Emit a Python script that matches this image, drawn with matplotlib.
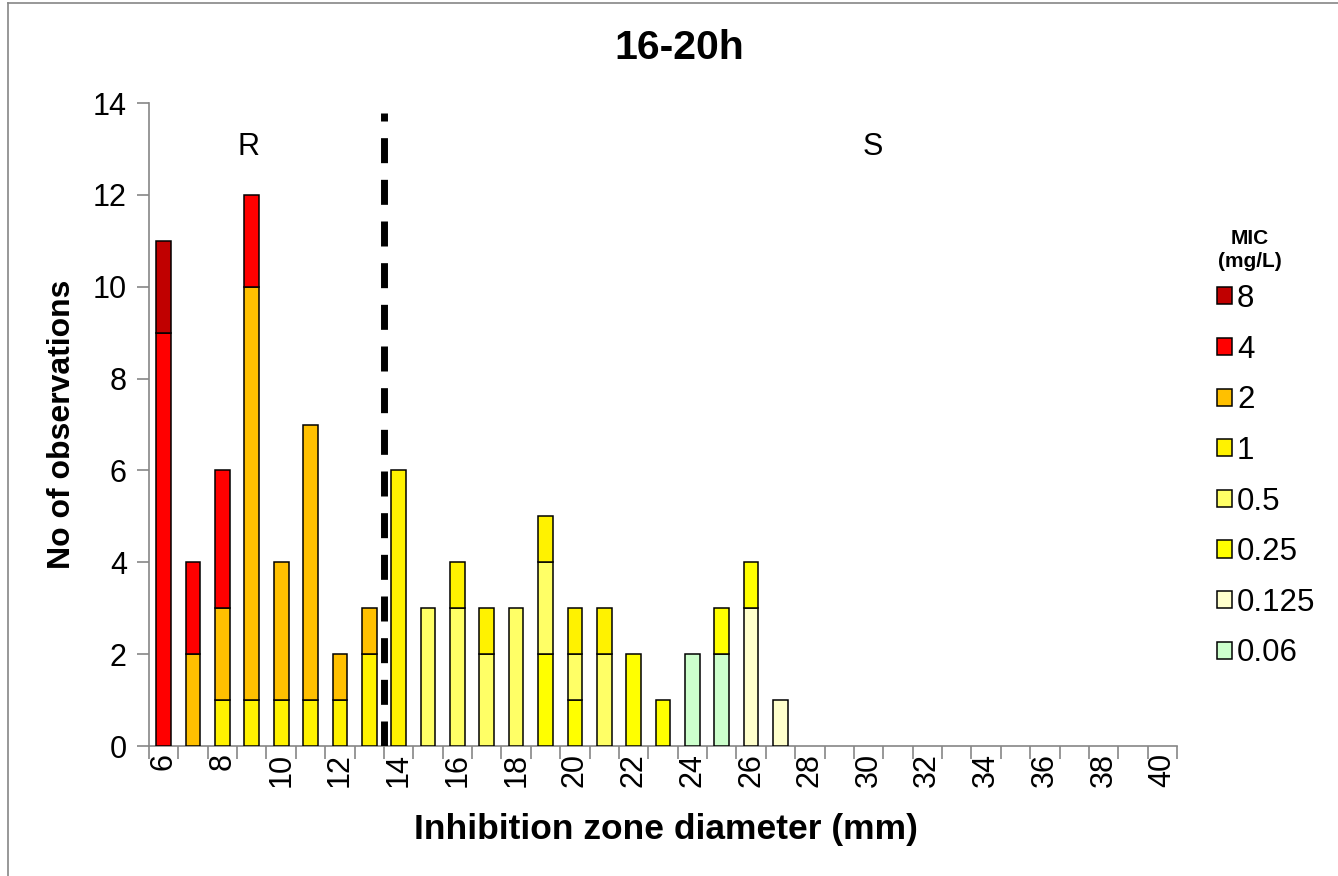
import matplotlib
matplotlib.use("Agg")
import matplotlib.pyplot as plt
from matplotlib.patches import Patch
from matplotlib.lines import Line2D
import numpy as np

plt.rcParams['font.family'] = ['Liberation Sans', 'DejaVu Sans']

diameters = list(range(6, 41))
mic_labels = ['0.06', '0.125', '0.25', '0.5', '1', '2', '4', '8']
mic_colors = ['#CCFFCC', '#FFFFCC', '#FFFF00', '#FFFF66', '#FFF200', '#FFC000', '#FF0000', '#C00000']

# counts per diameter (6..27), rest zero
def pad(vals):
    return vals + [0] * (len(diameters) - len(vals))

#                6  7  8  9 10 11 12 13 14 15 16 17 18 19 20 21 22 23 24 25 26 27
mic_006  = pad([0, 0, 0, 0, 0, 0, 0, 0, 0, 0, 0, 0, 0, 0, 0, 0, 0, 0, 2, 2, 0, 0])
mic_0125 = pad([0, 0, 0, 0, 0, 0, 0, 0, 0, 0, 0, 0, 0, 0, 0, 0, 0, 0, 0, 0, 3, 1])
mic_025  = pad([0, 0, 0, 0, 0, 0, 0, 0, 0, 0, 0, 0, 0, 2, 1, 0, 2, 1, 0, 1, 1, 0])
mic_05   = pad([0, 0, 0, 0, 0, 0, 0, 0, 0, 3, 3, 2, 3, 2, 1, 2, 0, 0, 0, 0, 0, 0])
mic_1    = pad([0, 0, 1, 1, 1, 1, 1, 2, 6, 0, 1, 1, 0, 1, 1, 1, 0, 0, 0, 0, 0, 0])
mic_2    = pad([0, 2, 2, 9, 3, 6, 1, 1, 0, 0, 0, 0, 0, 0, 0, 0, 0, 0, 0, 0, 0, 0])
mic_4    = pad([9, 2, 3, 2, 0, 0, 0, 0, 0, 0, 0, 0, 0, 0, 0, 0, 0, 0, 0, 0, 0, 0])
mic_8    = pad([2, 0, 0, 0, 0, 0, 0, 0, 0, 0, 0, 0, 0, 0, 0, 0, 0, 0, 0, 0, 0, 0])
series = [mic_006, mic_0125, mic_025, mic_05, mic_1, mic_2, mic_4, mic_8]

breakpoint_pos = 13.5  # between 13 and 14 mm

W, H = 1338, 876
fig = plt.figure(figsize=(W / 100, H / 100), dpi=100)
ax = fig.add_axes([149 / W, 1 - 746 / H, (1177 - 149) / W, (746 - 103) / H])

x = np.arange(len(diameters))
bottom = np.zeros(len(diameters))
for vals, col in zip(series, mic_colors):
    v = np.array(vals, dtype=float)
    mask = v > 0
    ax.bar(x[mask], v[mask], bottom=bottom[mask], width=0.5, color=col,
           edgecolor='black', linewidth=1.1, zorder=3)
    bottom += v

ax.set_xlim(-0.5, len(diameters) - 0.5)
ax.set_ylim(0, 14)
ax.set_yticks(np.arange(0, 15, 2))
ax.set_xticks(x[::2])
ax.set_xticklabels([str(d) for d in diameters[::2]], rotation=90)
ax.set_xticks(np.arange(-0.5, len(diameters), 1), minor=True)
ax.tick_params(axis='x', which='major', length=0, pad=5, labelsize=22)
ax.tick_params(axis='x', which='minor', length=9, color='#868686', width=1.2)
ax.tick_params(axis='y', length=9, color='#868686', width=1.2, labelsize=22, pad=7)

for s in ['top', 'right']:
    ax.spines[s].set_visible(False)
for s in ['left', 'bottom']:
    ax.spines[s].set_color('#868686')
    ax.spines[s].set_linewidth(1.2)

# breakpoint dashed line
xb = breakpoint_pos - diameters[0]
ax.plot([xb, xb], [0, 13.78], color='black', linewidth=5, dashes=(3.6, 2.4),
        solid_capstyle='butt', dash_capstyle='butt', zorder=4)

ax.text(2.9, 13.05, 'R', fontsize=22, ha='center', va='center')
ax.text(24.15, 13.05, 'S', fontsize=22, ha='center', va='center')

ax.set_ylabel('No of observations', fontsize=23, fontweight='bold')
ax.yaxis.set_label_coords((62 - 149) / 1028, 0.5)
ax.set_xlabel('Inhibition zone diameter (mm)', fontsize=25.5, fontweight='bold')
ax.xaxis.set_label_coords((666 - 149) / 1028, -(829 - 746) / 643)
ax.xaxis.label.set_va('center')
ax.yaxis.label.set_va('center')

fig.text(679 / W, 1 - 48 / H, '16-20h', fontsize=29.5, fontweight='bold', ha='center', va='center')

# legend
handles = [Patch(facecolor=c, edgecolor='black', linewidth=1.1) for c in mic_colors[::-1]]
labels = mic_labels[::-1]
fig.text(1250 / W, 1 - 250 / H, 'MIC\n(mg/L)', fontsize=15, fontweight='bold', ha='center', va='center',
         linespacing=1.3)
leg = fig.legend(handles, labels, loc='upper left', bbox_to_anchor=(1217 / W, 1 - 284 / H),
                 frameon=False, fontsize=22.5, handlelength=0.47, handleheight=0.47,
                 handletextpad=0.17, labelspacing=0.66, borderpad=0, borderaxespad=0)

# outer border (top and left visible)
fig.add_artist(Line2D([8 / W, 1.0], [1 - 3 / H, 1 - 3 / H], transform=fig.transFigure,
                      color='#868686', linewidth=1.2))
fig.add_artist(Line2D([8 / W, 8 / W], [0, 1 - 3 / H], transform=fig.transFigure,
                      color='#868686', linewidth=1.2))

fig.savefig('out.png', dpi=100)
